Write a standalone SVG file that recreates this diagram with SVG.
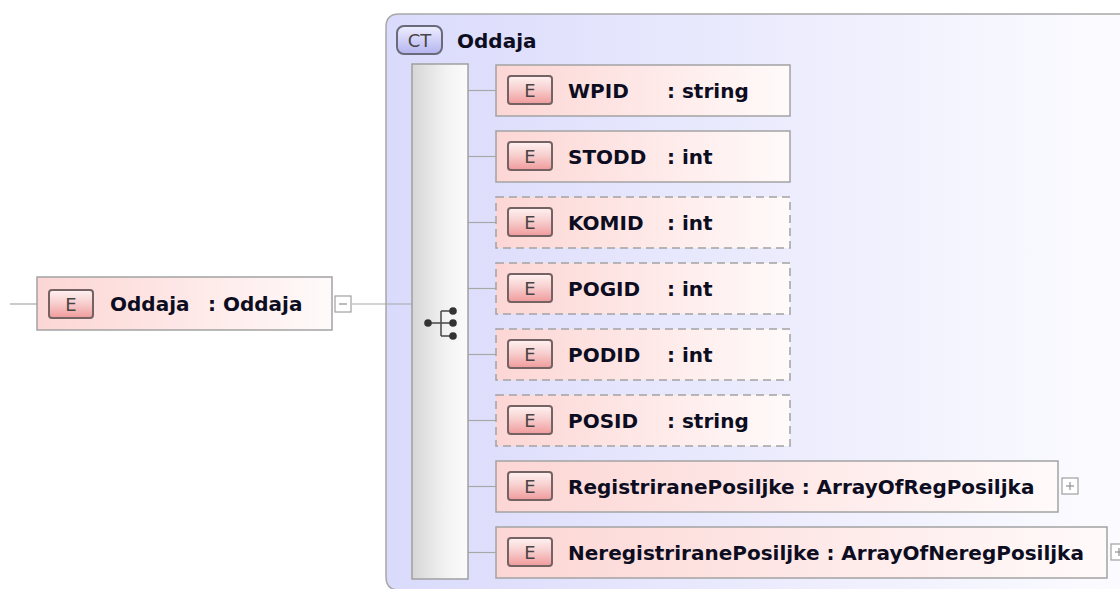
<svg xmlns="http://www.w3.org/2000/svg" width="1120" height="589" viewBox="0 0 1120 589">
<defs>
  <linearGradient id="gEl" x1="0" y1="0" x2="1" y2="0">
    <stop offset="0" stop-color="#fcd6d4"/>
    <stop offset="1" stop-color="#fffafa"/>
  </linearGradient>
  <linearGradient id="gBadge" x1="0" y1="0" x2="0" y2="1">
    <stop offset="0" stop-color="#fff2f2"/>
    <stop offset="0.45" stop-color="#f8d0d0"/>
    <stop offset="1" stop-color="#f09a9c"/>
  </linearGradient>
  <linearGradient id="gCTBadge" x1="0" y1="0" x2="0" y2="1">
    <stop offset="0" stop-color="#eeeeff"/>
    <stop offset="1" stop-color="#b4b4f0"/>
  </linearGradient>
  <linearGradient id="gCT" x1="0" y1="0" x2="1" y2="0">
    <stop offset="0" stop-color="#dadafc"/>
    <stop offset="1" stop-color="#fcfcff"/>
  </linearGradient>
  <linearGradient id="gSeq" x1="0" y1="0" x2="1" y2="0">
    <stop offset="0" stop-color="#d6d6d6"/>
    <stop offset="0.6" stop-color="#f2f2f2"/>
    <stop offset="1" stop-color="#fbfbfb"/>
  </linearGradient>
  <style>
    .el { fill: url(#gEl); stroke: #a3a3a3; stroke-width: 1.5; }
    .opt { stroke-dasharray: 8 5; }
    .badge { fill: url(#gBadge); stroke: #756262; stroke-width: 2; }
    .bt { font-family: "DejaVu Sans", Tahoma, sans-serif; font-size: 18px; fill: #4a4444; text-anchor: middle; }
    .t { font-family: "DejaVu Sans", Tahoma, sans-serif; font-size: 20px; font-weight: bold; fill: #0d0d22; }
    .conn { stroke: #a8a8a8; stroke-width: 1.2; fill: none; }
    .tog { fill: #ffffff; stroke: #a0a0a0; stroke-width: 1.2; }
    .togm { stroke: #909090; stroke-width: 1.2; }
  </style>
</defs>
<rect width="1120" height="589" fill="#ffffff"/>

<g id="ct-Oddaja">
  <path d="M1130,590 H399 Q386,590 386,577 V27 Q386,14 399,14 H1130 Z" fill="url(#gCT)" stroke="#a8a8a8" stroke-width="1.5"/>
  <rect x="397" y="26" width="45" height="28" rx="7" fill="url(#gCTBadge)" stroke="#6a6a7a" stroke-width="2"/>
  <text x="419.5" y="47" class="bt">CT</text>
  <text x="457" y="48" class="t">Oddaja</text>
</g>

<g id="connectors">
  <line class="conn" x1="10" y1="304" x2="37" y2="304"/>
  <line class="conn" x1="352" y1="304" x2="412" y2="304"/>
  <line class="conn" x1="468" y1="90.5" x2="496" y2="90.5"/>
  <line class="conn" x1="468" y1="156.5" x2="496" y2="156.5"/>
  <line class="conn" x1="468" y1="222.5" x2="496" y2="222.5"/>
  <line class="conn" x1="468" y1="288.5" x2="496" y2="288.5"/>
  <line class="conn" x1="468" y1="354.5" x2="496" y2="354.5"/>
  <line class="conn" x1="468" y1="420.5" x2="496" y2="420.5"/>
  <line class="conn" x1="468" y1="486.5" x2="496" y2="486.5"/>
  <line class="conn" x1="468" y1="552.5" x2="496" y2="552.5"/>
</g>

<g id="el-Oddaja">
  <rect class="el" x="37" y="277" width="295" height="53"/>
  <rect class="badge" x="49" y="290" width="44" height="28" rx="3"/>
  <text class="bt" x="71" y="310.5">E</text>
  <text class="t" x="110" y="311">Oddaja</text>
  <text class="t" x="208" y="311">: Oddaja</text>
  <rect class="tog" x="335" y="296" width="16" height="16"/>
  <line class="togm" x1="339" y1="304" x2="347" y2="304"/>
</g>

<g id="sequence">
  <rect x="412" y="64" width="56" height="515" fill="url(#gSeq)" stroke="#a0a0a0" stroke-width="1.5"/>
  <g stroke="#505050" stroke-width="1.6" fill="none">
    <line x1="428" y1="323" x2="441" y2="323"/>
    <line x1="441" y1="311" x2="441" y2="336"/>
    <line x1="441" y1="311" x2="453" y2="311"/>
    <line x1="441" y1="323" x2="453" y2="323"/>
    <line x1="441" y1="336" x2="453" y2="336"/>
  </g>
  <g fill="#333333">
    <circle cx="428" cy="323" r="3.8"/>
    <circle cx="453" cy="311" r="3.8"/>
    <circle cx="453" cy="323" r="3.8"/>
    <circle cx="453" cy="336" r="3.8"/>
  </g>
</g>

<g id="el-WPID">
  <rect class="el" x="496" y="65" width="294" height="51"/>
  <rect class="badge" x="508" y="76" width="44" height="28" rx="3"/>
  <text class="bt" x="530" y="96.5">E</text>
  <text class="t" x="568" y="97.5">WPID</text>
  <text class="t" x="667" y="97.5">: string</text>
</g>

<g id="el-STODD">
  <rect class="el" x="496" y="131" width="294" height="51"/>
  <rect class="badge" x="508" y="142" width="44" height="28" rx="3"/>
  <text class="bt" x="530" y="162.5">E</text>
  <text class="t" x="568" y="163.5">STODD</text>
  <text class="t" x="667" y="163.5">: int</text>
</g>

<g id="el-KOMID">
  <rect class="el opt" x="496" y="197" width="294" height="51"/>
  <rect class="badge" x="508" y="208" width="44" height="28" rx="3"/>
  <text class="bt" x="530" y="228.5">E</text>
  <text class="t" x="568" y="229.5">KOMID</text>
  <text class="t" x="667" y="229.5">: int</text>
</g>

<g id="el-POGID">
  <rect class="el opt" x="496" y="263" width="294" height="51"/>
  <rect class="badge" x="508" y="274" width="44" height="28" rx="3"/>
  <text class="bt" x="530" y="294.5">E</text>
  <text class="t" x="568" y="295.5">POGID</text>
  <text class="t" x="667" y="295.5">: int</text>
</g>

<g id="el-PODID">
  <rect class="el opt" x="496" y="329" width="294" height="51"/>
  <rect class="badge" x="508" y="340" width="44" height="28" rx="3"/>
  <text class="bt" x="530" y="360.5">E</text>
  <text class="t" x="568" y="361.5">PODID</text>
  <text class="t" x="667" y="361.5">: int</text>
</g>

<g id="el-POSID">
  <rect class="el opt" x="496" y="395" width="294" height="51"/>
  <rect class="badge" x="508" y="406" width="44" height="28" rx="3"/>
  <text class="bt" x="530" y="426.5">E</text>
  <text class="t" x="568" y="427.5">POSID</text>
  <text class="t" x="667" y="427.5">: string</text>
</g>

<g id="el-RegistriranePosiljke">
  <rect class="el" x="496" y="461" width="562" height="51"/>
  <rect class="badge" x="508" y="472" width="44" height="28" rx="3"/>
  <text class="bt" x="530" y="492.5">E</text>
  <text class="t" x="568" y="493.5">RegistriranePosiljke : ArrayOfRegPosiljka</text>
  <rect class="tog" x="1062" y="478" width="16" height="16"/>
  <line class="togm" x1="1066" y1="486" x2="1074" y2="486"/>
  <line class="togm" x1="1070" y1="482" x2="1070" y2="490"/>
</g>

<g id="el-NeregistriranePosiljke">
  <rect class="el" x="496" y="527" width="611" height="51"/>
  <rect class="badge" x="508" y="538" width="44" height="28" rx="3"/>
  <text class="bt" x="530" y="558.5">E</text>
  <text class="t" x="568" y="559.5">NeregistriranePosiljke : ArrayOfNeregPosiljka</text>
  <rect class="tog" x="1111" y="544" width="16" height="16"/>
  <line class="togm" x1="1115" y1="552" x2="1123" y2="552"/>
  <line class="togm" x1="1119" y1="548" x2="1119" y2="556"/>
</g>
</svg>
